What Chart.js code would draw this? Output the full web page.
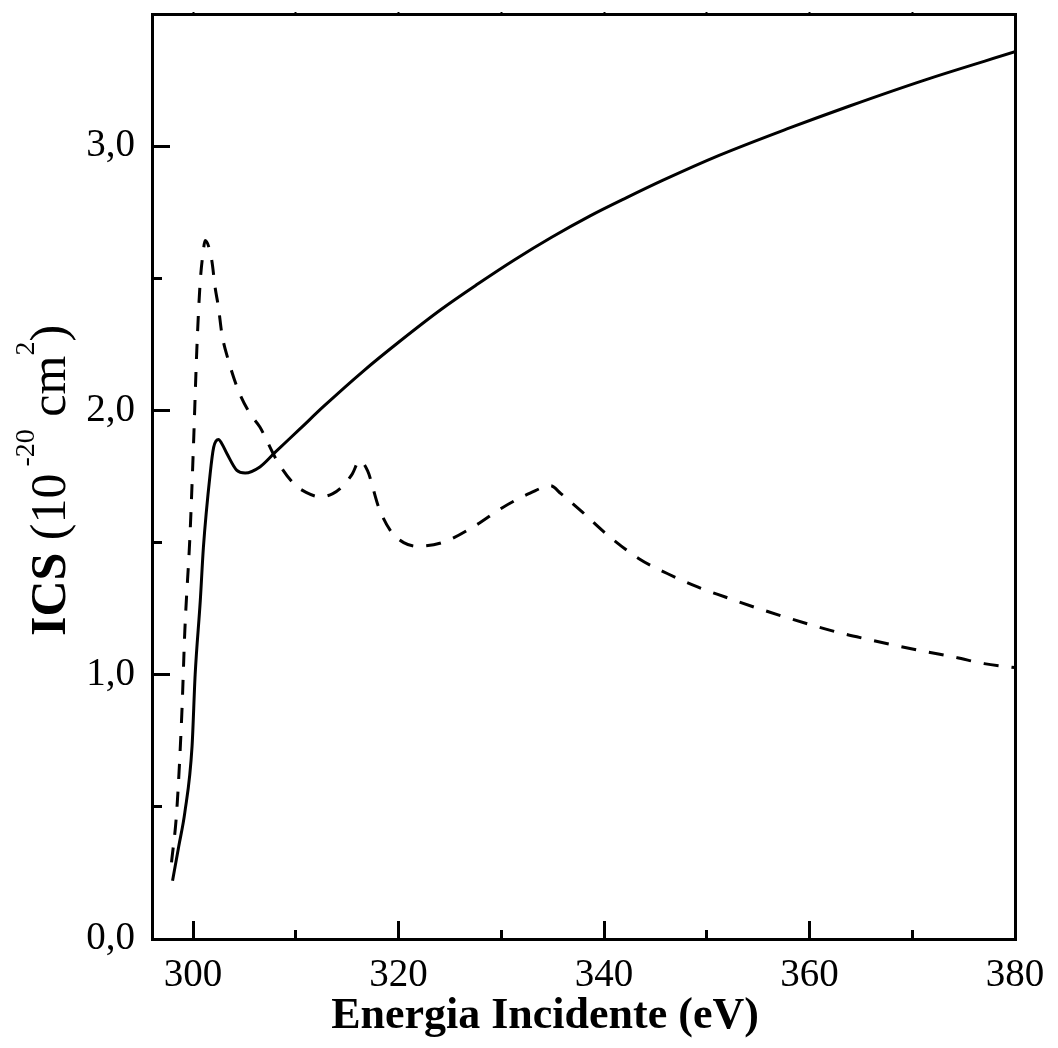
<!DOCTYPE html>
<html>
<head>
<meta charset="utf-8">
<script src="https://cdn.jsdelivr.net/npm/chart.js@4.4.1/dist/chart.umd.min.js"></script>
<style>
  html, body { margin: 0; padding: 0; background: #fff; }
  #wrap { width: 1058px; height: 1048px; }
</style>
</head>
<body>
<div id="wrap"><canvas id="ics-chart" width="1058" height="1048"></canvas></div>
<script>
// solid curve
const solidEnergy = [298.0, 298.6, 299.2, 299.9, 300.2, 300.7, 301.0, 301.66, 302.0, 302.47, 302.8, 303.3,
    304.26, 305.07, 306.5, 308.0, 310.4, 312.7, 316.6, 320.0, 324.1, 327.7, 331.3, 334.9, 338.6,
    342.2, 345.8, 351.2, 357.8, 363.9, 371.2, 380.0];
const solidICS = [0.22, 0.35, 0.48, 0.73, 1.00, 1.28, 1.48, 1.76, 1.86, 1.89, 1.874, 1.836,
    1.773, 1.763, 1.786, 1.842, 1.930, 2.015, 2.150, 2.258, 2.381, 2.478, 2.570, 2.655, 2.735,
    2.805, 2.872, 2.965, 3.065, 3.152, 3.250, 3.357];

// dashed curve
const dashEnergy = [297.9, 298.4, 298.9, 299.2, 299.7, 300.03, 300.36, 300.68, 301.0, 301.17, 301.82,
    302.14, 302.47, 302.8, 303.44, 304.41, 305.55, 306.5, 308.15, 309.8, 311.0, 312.4, 313.6, 314.6,
    315.5, 316.2, 317.0, 318.06, 319.3, 320.5, 321.8, 324.4, 327.5, 330.1, 332.8, 334.8, 335.8,
    337.7, 340.3, 343.4, 346.15, 349.1, 351.8, 354.6, 357.4, 360.3, 363.0, 365.8, 368.7, 371.5,
    374.3, 377.0, 380.0];
const dashICS = [0.29, 0.48, 0.85, 1.17, 1.53, 1.86, 2.227, 2.479, 2.605, 2.643, 2.567,
    2.466, 2.39, 2.29, 2.189, 2.075, 1.987, 1.937, 1.811, 1.723, 1.69, 1.673, 1.685, 1.715,
    1.76, 1.81, 1.77, 1.634, 1.54, 1.50, 1.486, 1.502, 1.565, 1.632, 1.687, 1.715, 1.685,
    1.622, 1.53, 1.439, 1.383, 1.332, 1.294, 1.256, 1.221, 1.187, 1.158, 1.133, 1.108, 1.086,
    1.065, 1.042, 1.027];

// axes
const xMin = 296, xMax = 380;
const xMajorTicks = [300, 320, 340, 360, 380];
const xMinorTicks = [300, 310, 320, 330, 340, 350, 360, 370];
const yMin = 0, yMax = 3.5;
const yMajorTicks = [0, 1, 2, 3];
const yMinorTicks = [0.5, 1, 1.5, 2, 2.5, 3];

const xTitle = 'Energia Incidente (eV)';
// y title pieces: text, bold?, size, raise
const yTitleParts = [
    ['ICS', true, 50, 0],
    [' (10', false, 50, 0],
    [' -20', false, 28, 31],
    [' cm', false, 50, 0],
    ['2', false, 28, 31],
    [')', false, 50, 0]
];

const FONT = 'Liberation Serif';

function toPoints(xs, ys) {
    return xs.map((x, i) => ({x: x, y: ys[i]}));
}

function fixedTicks(values) {
    return (scale) => {
        scale.ticks = values.map(v => ({value: v}));
    };
}

// fixed box size, and no extra room asked for overhanging labels
function boxSize(size) {
    return (s) => {
        if (s.isHorizontal()) s.height = size; else s.width = size;
        s.paddingTop = s.paddingBottom = s.paddingLeft = s.paddingRight = 0;
    };
}

// axis titles
const axisTitles = {
    id: 'axisTitles',
    afterDraw(chart) {
        const ctx = chart.ctx;
        ctx.save();
        ctx.fillStyle = '#000';
        ctx.textBaseline = 'alphabetic';

        ctx.font = 'bold 44px "' + FONT + '"';
        ctx.textAlign = 'center';
        ctx.fillText(xTitle, 545, 1028);

        ctx.translate(65, 636);
        ctx.rotate(-Math.PI / 2);
        ctx.textAlign = 'left';
        let cx = 0;
        yTitleParts.forEach(([txt, bold, size, raise]) => {
            ctx.font = (bold ? 'bold ' : '') + size + 'px "' + FONT + '"';
            ctx.fillText(txt, cx, -raise);
            cx += ctx.measureText(txt).width;
        });
        ctx.restore();
    }
};

const frame = {color: '#000', width: 3};

const config = {
    type: 'line',
    data: {
        datasets: [
            {
                data: toPoints(solidEnergy, solidICS),
                borderColor: '#000',
                borderWidth: 3,
                pointRadius: 0,
                cubicInterpolationMode: 'monotone',
                fill: false
            },
            {
                data: toPoints(dashEnergy, dashICS),
                borderColor: '#000',
                borderWidth: 3,
                borderDash: [15, 13],
                pointRadius: 0,
                cubicInterpolationMode: 'monotone',
                fill: false
            }
        ]
    },
    options: {
        responsive: false,
        animation: false,
        layout: { autoPadding: false, padding: {top: 14, right: 43, left: 0, bottom: 0} },
        plugins: {
            legend: { display: false },
            tooltip: { enabled: false }
        },
        scales: {
            x: {
                type: 'linear', position: 'bottom', weight: 1,
                min: xMin, max: xMax,
                afterBuildTicks: fixedTicks(xMajorTicks),
                afterFit: boxSize(109),
                ticks: {
                    color: '#000', padding: 31, maxRotation: 0, autoSkip: false,
                    font: {family: FONT, size: 39},
                    callback: (v) => String(v)
                },
                grid: { drawOnChartArea: false, tickLength: -18, tickWidth: 3, tickColor: '#000' },
                border: frame
            },
            xMinor: {
                type: 'linear', position: 'bottom', weight: 0,
                min: xMin, max: xMax,
                afterBuildTicks: fixedTicks(xMinorTicks),
                afterFit: boxSize(0),
                ticks: { display: false, autoSkip: false },
                grid: { drawOnChartArea: false, tickLength: -9, tickWidth: 3, tickColor: '#000' },
                border: { display: false }
            },
            xTop: {
                type: 'linear', position: 'top',
                min: xMin, max: xMax,
                afterBuildTicks: fixedTicks(xMinorTicks),
                afterFit: boxSize(0),
                ticks: { display: false, autoSkip: false },
                grid: { drawOnChartArea: false, tickLength: 2, tickWidth: 2, tickColor: '#000' },
                border: frame
            },
            y: {
                type: 'linear', position: 'left', weight: 1,
                min: yMin, max: yMax,
                afterBuildTicks: fixedTicks(yMajorTicks),
                afterFit: boxSize(152),
                ticks: {
                    color: '#000', padding: 35, autoSkip: false,
                    font: {family: FONT, size: 39},
                    callback: (v) => v.toFixed(1).replace('.', ',')
                },
                grid: { drawOnChartArea: false, tickLength: -18, tickWidth: 3, tickColor: '#000' },
                border: frame
            },
            yMinor: {
                type: 'linear', position: 'left', weight: 0,
                min: yMin, max: yMax,
                afterBuildTicks: fixedTicks(yMinorTicks),
                afterFit: boxSize(0),
                ticks: { display: false, autoSkip: false },
                grid: { drawOnChartArea: false, tickLength: -10, tickWidth: 3, tickColor: '#000' },
                border: { display: false }
            },
            yRight: {
                type: 'linear', position: 'right',
                min: yMin, max: yMax,
                afterBuildTicks: fixedTicks(yMinorTicks),
                afterFit: boxSize(0),
                ticks: { display: false, autoSkip: false },
                grid: { drawOnChartArea: false, tickLength: 2, tickWidth: 2, tickColor: '#000' },
                border: frame
            }
        }
    },
    plugins: [axisTitles]
};

const chartICS = new Chart(document.getElementById('ics-chart'), config);
</script>
</body>
</html>
